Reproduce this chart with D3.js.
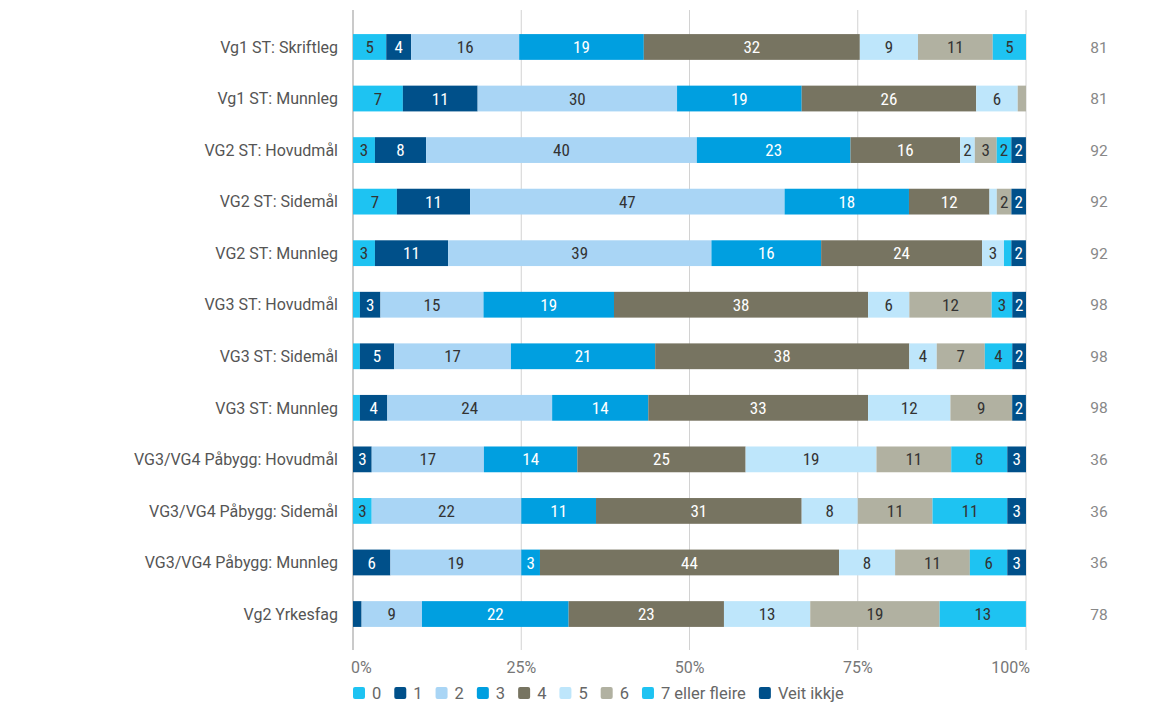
<!DOCTYPE html>
<html><head><meta charset="utf-8">
<script src="https://cdn.jsdelivr.net/npm/d3@7"></script>
<style>
html,body{margin:0;padding:0;background:#fff;}
svg{display:block;}
</style>
</head><body>
<svg id="chart" width="1154" height="703"></svg>
<script>
const categories = [
  "Vg1 ST: Skriftleg","Vg1 ST: Munnleg","VG2 ST: Hovudmål","VG2 ST: Sidemål","VG2 ST: Munnleg",
  "VG3 ST: Hovudmål","VG3 ST: Sidemål","VG3 ST: Munnleg","VG3/VG4 Påbygg: Hovudmål",
  "VG3/VG4 Påbygg: Sidemål","VG3/VG4 Påbygg: Munnleg","Vg2 Yrkesfag"
];
const seriesNames = ["0","1","2","3","4","5","6","7 eller fleire","Veit ikkje"];
const colors = ["#1ec3f2","#00508a","#a9d5f5","#009fe0","#777461","#bee6fb","#b1b1a1","#1ec3f2","#00508a"];
const labelColors = ["#333","#fff","#333","#fff","#fff","#333","#333","#333","#fff"];
// percentage per category (rows) for each series
const s0 = [4.94, 7.41, 3.26, 6.52, 3.26, 1.02, 1.02, 1.02, 0, 2.78, 0, 0];
const s1 = [3.70, 11.11, 7.61, 10.87, 10.87, 3.06, 5.10, 4.08, 2.78, 0, 5.56, 1.28];
const s2 = [16.05, 29.63, 40.22, 46.74, 39.13, 15.31, 17.35, 24.49, 16.67, 22.22, 19.44, 8.97];
const s3 = [18.52, 18.52, 22.83, 18.48, 16.30, 19.39, 21.43, 14.29, 13.89, 11.11, 2.78, 21.79];
const s4 = [32.10, 25.93, 16.30, 11.96, 23.91, 37.76, 37.76, 32.65, 25.00, 30.56, 44.44, 23.08];
const s5 = [8.64, 6.17, 2.17, 1.09, 3.26, 6.12, 4.08, 12.24, 19.44, 8.33, 8.33, 12.82];
const s6 = [11.11, 1.23, 3.26, 2.17, 0, 12.24, 7.14, 9.18, 11.11, 11.11, 11.11, 19.23];
const s7 = [4.94, 0, 2.17, 0, 1.09, 3.06, 4.08, 0, 8.33, 11.11, 5.56, 12.82];
const s8 = [0, 0, 2.17, 2.17, 2.17, 2.04, 2.04, 2.04, 2.78, 2.78, 2.78, 0];
const totals = [81, 81, 92, 92, 92, 98, 98, 98, 36, 36, 36, 78];
const tickValues = [0, 25, 50, 75, 100];
const tickLabels = ["0%","25%","50%","75%","100%"];

const seriesValues = [s0,s1,s2,s3,s4,s5,s6,s7,s8];
const rows = categories.map((c,i) => {
  const r = {cat: c};
  seriesNames.forEach((s,j) => r[s] = seriesValues[j][i]);
  return r;
});

const svg = d3.select("#chart");
const x = d3.scaleLinear().domain([0,100]).range([353,1026]);
const y = d3.scaleBand().domain(categories).range([21.2,639.8]).paddingInner(0.5).paddingOuter(0.25);

const font = "Roboto, 'Noto Sans', sans-serif";
const condFont = "'Roboto Condensed','Liberation Sans Narrow', Roboto, sans-serif";

// gridlines
const grid = svg.append("g");
grid.selectAll("line").data(tickValues).join("line")
  .attr("x1", d => x(d)).attr("x2", d => x(d))
  .attr("y1", 10).attr("y2", 650)
  .attr("stroke", d => d === 0 ? "#b8b8b8" : "#d2d2d2")
  .attr("stroke-width", d => d === 0 ? 1.5 : 1);

// stacked bars
const stack = d3.stack().keys(seriesNames)(rows);
const layers = svg.append("g").selectAll("g").data(stack).join("g")
  .attr("fill", (d,i) => colors[i]);
layers.selectAll("rect").data(d => d).join("rect")
  .attr("x", d => x(d[0]))
  .attr("y", d => y(d.data.cat))
  .attr("width", d => Math.max(0, x(d[1]) - x(d[0])))
  .attr("height", y.bandwidth());

// segment labels
const labLayers = svg.append("g").selectAll("g").data(stack).join("g")
  .attr("fill", (d,i) => labelColors[i]);
labLayers.selectAll("text").data(d => d.filter(p => (p[1]-p[0]) >= 1.5)).join("text")
  .attr("x", d => (x(d[0]) + x(d[1]))/2)
  .attr("y", d => y(d.data.cat) + y.bandwidth()/2)
  .attr("dy", "0.36em")
  .attr("text-anchor", "middle")
  .style("font-family", condFont)
  .style("font-size", "17px")
  .text(d => Math.round(d[1]-d[0]));

// category labels
svg.append("g").selectAll("text").data(categories).join("text")
  .attr("x", 338)
  .attr("y", d => y(d) + y.bandwidth()/2)
  .attr("dy", "0.36em")
  .attr("text-anchor", "end")
  .attr("fill", "#555")
  .style("font-family", font)
  .style("font-size", "16px")
  .text(d => d);

// totals
svg.append("g").selectAll("text").data(totals).join("text")
  .attr("x", 1099)
  .attr("y", (d,i) => y(categories[i]) + y.bandwidth()/2)
  .attr("dy", "0.36em")
  .attr("text-anchor", "middle")
  .attr("fill", "#888")
  .style("font-family", font)
  .style("font-size", "15.5px")
  .text(d => d);

// x tick labels
svg.append("g").selectAll("text").data(tickValues).join("text")
  .attr("x", (d,i) => i === 0 ? x(d) - 2 : (i === tickValues.length-1 ? x(d) + 4 : x(d)))
  .attr("y", 667)
  .attr("dy", "0.36em")
  .attr("text-anchor", (d,i) => i === 0 ? "start" : (i === tickValues.length-1 ? "end" : "middle"))
  .attr("fill", "#777")
  .style("font-family", font)
  .style("font-size", "16px")
  .text((d,i) => tickLabels[i]);

// legend
const legend = svg.append("g").attr("transform", "translate(353,693)");
let lx = 0;
seriesNames.forEach((s,i) => {
  const g = legend.append("g").attr("transform", `translate(${lx},0)`);
  g.append("rect").attr("x", 0).attr("y", -6).attr("width", 12).attr("height", 12)
    .attr("rx", 2).attr("fill", colors[i]);
  const t = g.append("text").attr("x", 19).attr("y", 0).attr("dy", "0.36em")
    .attr("fill", "#666").style("font-family", font).style("font-size", "16.5px").text(s);
  lx += 19 + t.node().getComputedTextLength() + 13;
});
</script>
</body></html>
